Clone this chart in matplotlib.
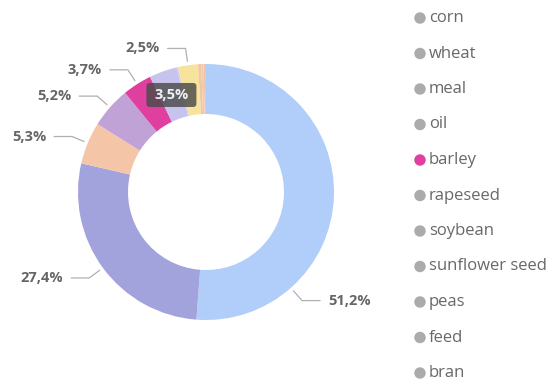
import numpy as np
import matplotlib
matplotlib.use("Agg")
import matplotlib.pyplot as plt
from matplotlib.patches import FancyBboxPatch

categories = ["corn", "wheat", "meal", "oil", "barley", "rapeseed", "soybean",
              "sunflower seed", "peas", "feed", "bran"]
values = [51.2, 27.4, 5.3, 5.2, 3.7, 3.5, 0.2, 2.5, 0.4, 0.3, 0.3]
label_texts = ["51,2%", "27,4%", "5,3%", "5,2%", "3,7%", None, None, "2,5%", None, None, None]
tooltip_text = "3,5%"
tooltip_index = 5
highlight_index = 4

colors = ["#b1cdfa", "#a2a2dc", "#f5c5a8", "#c1a2d7", "#df40a0", "#c6c3ee",
          "#d7c9ea", "#f7e49c", "#f2c6a4", "#f3cbac", "#efc6a6"]

W, H = 551, 380
fig = plt.figure(figsize=(W / 100, H / 100), dpi=100)
ax = fig.add_axes([0, 0, 1, 1])

cx, cy = 206, H - 192
R = 128
inner = 78

wedges, _ = ax.pie(values, colors=colors, startangle=90, counterclock=False,
                   radius=R, center=(cx, cy),
                   wedgeprops=dict(width=R - inner, edgecolor="none", linewidth=0),
                   frame=True)
ax.set_xlim(0, W)
ax.set_ylim(0, H)
ax.axis("off")

font = "Open Sans"
lab_color = "#666666"
line_color = "#b0b0b0"

# label anchor angle overrides (clockwise degrees from top); None => mid-angle
anchor_override = {0: 138.5}

cum = np.cumsum([0] + values)
total = cum[-1]
for i, txt in enumerate(label_texts):
    if txt is None:
        continue
    if i in anchor_override:
        ang = anchor_override[i]
    else:
        ang = (cum[i] + cum[i + 1]) / 2 / total * 360.0
    th = np.deg2rad(ang)
    dx, dy = np.sin(th), np.cos(th)
    p0 = (cx + (R + 4) * dx, cy + (R + 4) * dy)
    p1 = (cx + (R + 17) * dx, cy + (R + 17) * dy)
    side = 1 if dx >= 0 else -1
    p2 = (p1[0] + side * 18, p1[1])
    ax.plot([p0[0], p1[0], p2[0]], [p0[1], p1[1], p2[1]], color=line_color,
            lw=0.9, solid_capstyle="round")
    ax.text(p2[0] + side * 8, p2[1], txt, ha="left" if side > 0 else "right",
            va="center", fontsize=10.5, fontweight="bold", color=lab_color, family=font)

# tooltip
ang = (cum[tooltip_index] + cum[tooltip_index + 1]) / 2 / total * 360.0
th = np.deg2rad(ang)
tx = cx + (R - 25) * np.sin(th)
ty = cy + (R - 25) * np.cos(th)
bw, bh = 50, 24
box = FancyBboxPatch((tx - bw / 2, ty - bh / 2), bw, bh,
                     boxstyle="round,pad=0,rounding_size=3",
                     facecolor="#4a4a4a", alpha=0.82, edgecolor="none", zorder=5)
ax.add_patch(box)
ax.text(tx, ty, tooltip_text, ha="center", va="center", fontsize=10.5,
        fontweight="bold", color="#f0f0f0", family=font, zorder=6)

# legend
leg_x = 420
leg_y0 = 18
leg_step = 35.5
for i, name in enumerate(categories):
    y = H - (leg_y0 + i * leg_step)
    mc = colors[i] if i == highlight_index else "#ababab"
    ax.scatter([leg_x], [y], s=68, color=mc, edgecolors="none", zorder=5)
    ax.text(leg_x + 9, y, name, ha="left", va="center", fontsize=12,
            color="#686868", family=font)

fig.savefig("out.png", dpi=100)
